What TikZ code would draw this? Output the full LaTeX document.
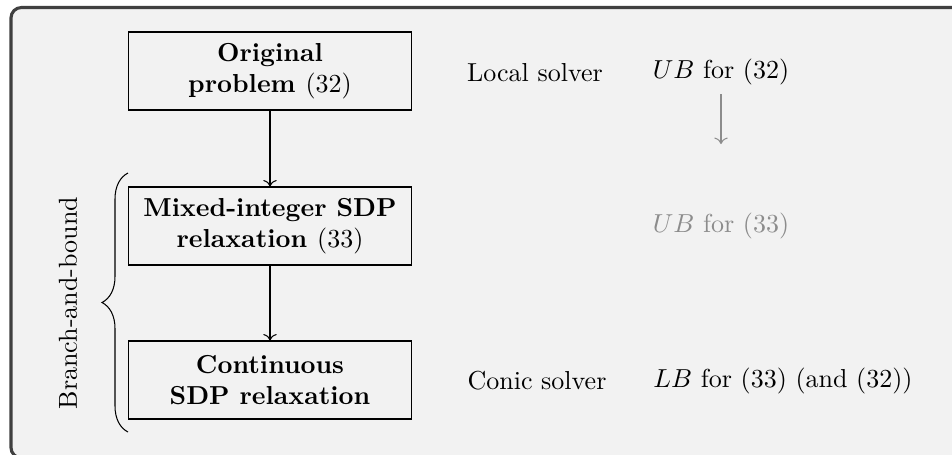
\documentclass[tikz,border=0pt]{standalone}
\usepackage{amsmath}
\usetikzlibrary{arrows.meta,positioning,calc,decorations.pathreplacing}

\begin{document}
\begin{tikzpicture}[
      x=0.3846pt, y=-0.3846pt,
      font=\normalsize,
      frame/.style={draw=black!75, line width=1.2pt, rounded corners=4pt, fill=black!5},
      block/.style={draw, align=center, minimum width=109pt, minimum height=30pt, font=\bfseries},
      lbl/.style={align=center},
      faded/.style={text=black!45},
      arrow/.style={->},
      fadedarrow/.style={->, draw=black!45}
    ]
    \useasboundingbox (0,0) rectangle (952,454);
    \draw[frame] (11,7.5) rectangle (990,458);

    % Problems
    \node[block] (orig) at (270,71)  {Original\\problem \textmd{(32)}};
    \node[block] (mip)  at (270,226) {Mixed-integer SDP\\relaxation \textmd{(33)}};
    \node[block] (cont) at (270,380) {Continuous\\SDP relaxation};

    \draw[arrow] (orig) -- (mip);
    \draw[arrow] (mip) -- (cont);

    % Solvers and bounds
    \node[lbl] (local) at (535,73)  {Local solver};
    \node[lbl] (ubo)   at (721,72)  {\(UB\) for (32)};
    \node[lbl, faded] (ubm) at (721,226) {\(UB\) for (33)};
    \node[lbl] (conic) at (537,381) {Conic solver};
    \node[lbl] (lb)    at (783,381) {\(LB\) for (33) (and (32))};

    \draw[fadedarrow, shorten >=23pt] (ubo) -- (ubm);

    % Branch-and-bound
    \coordinate (btop) at (128,173);
    \coordinate (bbot) at (128,432);
    \draw[decorate, decoration={brace, amplitude=10pt}] (bbot) -- (btop);
    \node[lbl, rotate=90] (bnb) at (68,303) {Branch-and-bound};
  \end{tikzpicture}
\end{document}
